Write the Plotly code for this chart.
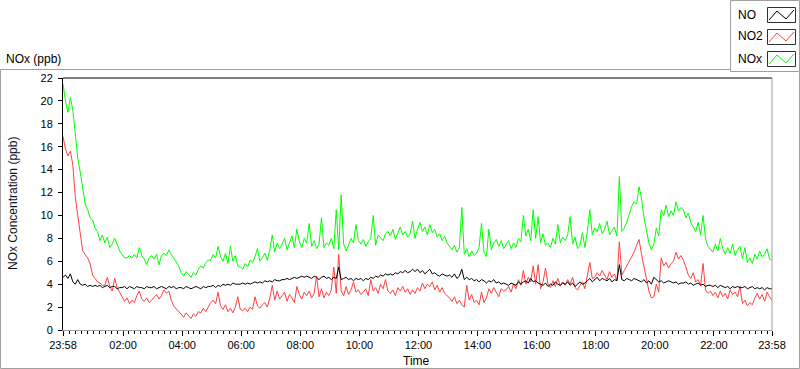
import plotly.graph_objects as go
import pandas as pd

# ---------------- data (5-minute samples, 23:58 -> 23:58 next day) ----------------
start_time = "2024-01-01 23:58"
n_points = 289

no = [
    4.6, 4.8, 4.5, 4.9, 4.2, 4.0, 4.4, 4.0, 3.9, 4.0, 3.8, 3.9,
    3.8, 3.9, 3.8, 3.9, 3.7, 3.8, 3.9, 3.7, 3.8, 3.8, 3.6, 3.7,
    3.7, 3.8, 3.6, 3.8, 3.7, 3.6, 3.8, 3.7, 3.7, 3.6, 3.8, 3.7,
    3.7, 3.8, 3.6, 3.7, 3.8, 3.7, 3.6, 3.8, 3.7, 3.8, 3.6, 3.7,
    3.7, 3.6, 3.8, 3.7, 3.6, 3.7, 3.8, 3.7, 3.6, 3.8, 3.7, 3.8,
    3.8, 3.9, 3.7, 3.9, 3.8, 4.0, 3.9, 4.0, 3.9, 4.1, 4.0, 4.0,
    4.0, 4.1, 4.0, 4.1, 4.0, 4.1, 4.2, 4.1, 4.2, 4.1, 4.3, 4.2,
    4.3, 4.2, 4.4, 4.3, 4.3, 4.4, 4.4, 4.5, 4.4, 4.5, 4.6, 4.5,
    4.6, 4.7, 4.6, 4.7, 4.6, 4.5, 4.7, 4.6, 4.4, 4.6, 4.7, 4.5,
    4.6, 4.4, 4.6, 4.5, 5.5, 4.4, 4.5, 4.6, 4.4, 4.5, 4.3, 4.5,
    4.4, 4.5, 4.3, 4.5, 4.4, 4.6, 4.5, 4.7, 4.6, 4.8, 4.7, 4.9,
    4.8, 4.9, 4.8, 5.0, 4.9, 5.1, 5.0, 5.2, 5.0, 5.1, 5.3, 5.1,
    5.3, 5.0, 5.2, 4.9, 5.1, 5.3, 4.9, 5.0, 4.8, 4.7, 4.9, 4.8,
    4.7, 4.8, 4.6, 4.9, 4.5, 4.7, 5.3, 4.4, 4.6, 4.4, 4.5, 4.3,
    4.4, 4.2, 4.4, 4.3, 4.1, 4.3, 4.2, 4.4, 4.1, 4.2, 4.0, 4.1,
    4.0, 3.9, 4.1, 4.0, 3.9, 4.2, 4.0, 4.2, 4.3, 4.1, 4.5, 4.2,
    4.3, 4.1, 4.0, 3.9, 4.1, 3.8, 4.0, 3.9, 4.2, 4.0, 3.9, 4.1,
    4.0, 4.2, 3.9, 4.1, 3.8, 4.0, 4.2, 4.0, 4.1, 4.3, 4.5, 4.2,
    4.4, 4.6, 4.3, 4.5, 4.4, 4.3, 4.5, 4.2, 4.4, 4.3, 5.7, 4.4,
    4.3, 4.5, 4.4, 4.3, 4.5, 4.4, 4.3, 4.2, 4.4, 4.1, 4.3, 4.0,
    4.6, 4.4, 4.2, 4.3, 4.1, 4.2, 4.3, 4.2, 4.1, 4.2, 4.0, 4.1,
    4.1, 4.2, 4.0, 4.1, 3.9, 4.0, 4.1, 3.9, 4.0, 3.8, 3.9, 3.9,
    3.8, 3.9, 3.7, 3.9, 3.8, 3.7, 3.8, 3.6, 3.8, 3.7, 3.8, 3.7,
    3.7, 3.8, 3.6, 3.7, 3.8, 3.6, 3.7, 3.6, 3.7, 3.5, 3.7, 3.6,
    3.6,
]

no2 = [
    16.9, 15.8, 15.2, 15.6, 14.4, 11.6, 10.0, 8.6, 6.9, 6.6, 6.3, 5.8,
    4.8, 4.5, 4.2, 4.1, 3.9, 3.9, 4.6, 3.8, 3.4, 4.5, 3.7, 3.3,
    2.9, 2.5, 2.8, 2.3, 2.6, 2.4, 3.0, 3.4, 2.7, 2.5, 2.8, 2.4,
    2.6, 2.9, 3.1, 2.7, 3.0, 3.5, 3.2, 3.4, 2.6, 2.1, 1.8, 1.6,
    1.4, 1.1, 1.5, 1.2, 1.0, 1.4, 1.2, 1.6, 1.5, 1.9, 1.6, 2.0,
    2.4, 2.6, 2.3, 3.3, 2.1, 1.8, 2.2, 1.6, 1.9, 1.5, 2.0, 2.9,
    1.8, 1.7, 1.9, 1.6, 2.0, 1.8, 2.9, 2.1, 1.9, 2.2, 2.4, 2.0,
    2.8, 3.9, 2.6, 3.4, 2.7, 3.0, 3.3, 2.5, 3.1, 2.8, 2.4, 3.8,
    3.1, 2.7, 3.3, 3.0, 3.4, 2.8, 3.2, 4.7, 2.9, 3.6, 2.8, 3.3,
    3.0, 3.5, 5.5, 3.2, 6.6, 3.4, 3.0, 3.8, 3.1, 3.5, 4.2, 3.3,
    3.5, 3.1, 3.3, 3.6, 3.0, 4.4, 3.4, 3.7, 3.2, 4.0, 3.6, 4.4,
    3.4, 3.2, 3.5, 3.0, 3.7, 3.4, 3.8, 3.3, 3.6, 3.1, 3.5, 3.2,
    3.7, 3.4, 4.1, 3.6, 4.0, 3.8, 4.2, 3.5, 3.9, 3.3, 3.7, 3.2,
    3.0, 2.8, 2.5, 2.9, 2.3, 2.6, 2.2, 2.0, 3.9, 2.6, 3.1, 2.4,
    2.6, 2.2, 3.3, 2.4, 2.8, 3.6, 3.2, 3.7, 3.3, 2.9, 3.6, 3.4,
    3.5, 3.8, 3.3, 4.0, 3.6, 4.4, 3.9, 5.2, 4.0, 4.6, 4.2, 5.6,
    4.0, 5.7, 3.6, 4.2, 5.4, 4.0, 3.7, 4.3, 3.8, 4.5, 3.9, 4.2,
    3.9, 4.4, 4.0, 4.6, 3.7, 3.5, 3.9, 4.2, 3.6, 4.8, 5.9, 4.5,
    4.6, 5.0, 4.7, 5.2, 4.8, 4.4, 5.1, 4.6, 4.9, 4.3, 7.7, 4.8,
    5.2, 5.6, 5.9, 6.3, 6.8, 7.4, 7.9, 6.6, 5.5, 4.6, 3.4, 2.8,
    2.9, 4.0, 3.3, 6.3, 5.6, 5.9, 5.4, 5.8, 6.0, 6.8, 6.2, 6.5,
    6.1, 5.5, 4.8, 4.5, 5.0, 4.2, 4.4, 3.9, 5.8, 3.5, 3.2, 3.4,
    3.0, 3.3, 2.8, 3.4, 2.9, 3.2, 2.7, 3.5, 3.1, 3.3, 2.9, 3.8,
    2.3, 2.6, 2.1, 2.4, 2.2, 2.8, 3.2, 2.7, 3.1, 2.5, 3.3, 2.9,
    2.6,
]

nox = [
    21.5, 20.0, 19.0, 20.3, 19.2, 16.8, 15.0, 13.8, 12.3, 11.0, 10.5, 9.8,
    9.6, 8.9, 8.6, 7.8, 8.3, 7.6, 8.1, 7.2, 7.5, 8.0, 7.5, 6.9,
    6.6, 6.3, 6.3, 6.5, 6.3, 6.6, 6.3, 7.2, 6.5, 6.2, 5.7, 6.3,
    6.5, 6.2, 6.6, 5.7, 6.5, 6.7, 6.5, 7.0, 6.6, 6.3, 5.9, 5.6,
    5.0, 4.7, 5.1, 4.8, 4.6, 5.0, 4.8, 5.3, 5.6, 5.4, 5.9, 6.1,
    6.1, 6.6, 6.3, 7.3, 6.4, 6.0, 6.7, 5.8, 7.3, 6.0, 6.5, 5.6,
    5.5, 5.3, 5.8, 5.5, 6.1, 5.9, 6.4, 7.1, 6.0, 6.3, 6.7, 6.1,
    7.0, 8.3, 6.8, 7.6, 7.1, 7.5, 8.0, 7.0, 7.6, 8.2, 7.2, 8.8,
    7.7, 7.2, 8.0, 7.6, 9.3, 7.3, 7.8, 7.1, 7.5, 9.8, 7.2, 7.6,
    7.4, 8.0, 7.1, 10.5, 7.0, 11.8, 7.5, 6.9, 7.4, 8.0, 7.6, 9.2,
    7.8, 7.5, 7.9, 7.3, 7.7, 8.0, 10.0, 7.4, 8.3, 8.0, 7.8, 8.4,
    8.6, 8.2, 8.8, 7.9, 8.5, 9.0, 8.3, 8.6, 8.1, 8.4, 9.5, 8.0,
    8.8, 9.4, 8.6, 9.0, 8.3, 9.2, 8.5, 8.8, 8.1, 8.4, 7.8, 8.2,
    7.6, 7.3, 7.0, 7.4, 6.8, 7.2, 10.7, 6.6, 7.1, 6.4, 6.9, 6.5,
    6.7, 7.2, 9.3, 6.8, 6.4, 8.8, 7.0, 7.6, 7.9, 7.3, 7.8, 7.1,
    7.5, 7.8, 7.1, 7.6, 7.2, 8.0, 7.7, 10.0, 8.2, 8.8, 7.8, 10.5,
    8.0, 9.9, 7.6, 8.4, 7.4, 7.6, 7.2, 8.0, 7.5, 9.2, 7.6, 8.1,
    7.8, 8.3, 9.9, 7.5, 8.1, 7.1, 7.4, 8.5, 7.2, 8.6, 10.5, 8.3,
    8.9, 8.6, 9.3, 8.4, 8.8, 9.5, 8.3, 8.7, 9.0, 8.2, 13.4, 8.6,
    8.9, 9.4, 10.2, 10.8, 11.2, 11.0, 12.5, 11.5, 9.8, 8.5, 7.6, 7.0,
    7.5, 8.9, 8.2, 10.5, 10.0, 10.9, 9.9, 10.4, 10.0, 11.2, 10.4, 10.7,
    10.5, 9.8, 10.2, 9.4, 9.0, 8.6, 9.4, 8.3, 10.0, 8.0, 7.3, 7.0,
    6.8, 7.5, 6.9, 8.0, 7.1, 6.6, 7.2, 6.7, 7.5, 6.5, 7.0, 7.3,
    6.2, 7.2, 5.9, 6.3, 5.8, 6.6, 6.2, 6.9, 6.4, 6.6, 7.1, 6.2,
    6.1,
]

series_names = ["NO", "NO2", "NOx"]
series_colors = ["#000000", "#ff4040", "#00ff00"]

tick_labels = ["23:58", "02:00", "04:00", "06:00", "08:00", "10:00", "12:00",
               "14:00", "16:00", "18:00", "20:00", "22:00", "23:58"]
y_ticks = [0, 2, 4, 6, 8, 10, 12, 14, 16, 18, 20, 22]

# ---------------- figure ----------------
times = pd.date_range(start_time, periods=n_points, freq="5min")
assert len(no) == len(no2) == len(nox) == n_points

tick_vals = [times[0]] + [pd.Timestamp("2024-01-02 " + t) for t in tick_labels[1:-1]] + [times[-1]]

series_values = [no, no2, nox]
fig = go.Figure()
# draw order: NOx, NO2, NO (NO on top)
for idx in [2, 1, 0]:
    fig.add_trace(go.Scatter(x=times, y=series_values[idx], mode="lines",
                             name=series_names[idx],
                             line=dict(color=series_colors[idx], width=1)))

L, T, W, H = 63, 78, 709, 252


def PX(x):
    return (x - L) / W


def PY(y):
    return 1 - (y - T) / H


FONT = "Liberation Sans, Arial, sans-serif"

fig.update_layout(
    width=800, height=369,
    margin=dict(l=L, r=800 - L - W, t=T, b=369 - T - H, pad=0),
    paper_bgcolor="white", plot_bgcolor="white",
    showlegend=False,
    font=dict(family=FONT, size=11, color="black"),
    xaxis=dict(
        type="date", range=[times[0], times[-1]],
        tickmode="array", tickvals=tick_vals, ticktext=tick_labels,
        ticks="outside", ticklen=5, tickcolor="black", tickwidth=1,
        showline=True, linecolor="#a0a0a0", linewidth=1,
        showgrid=False, zeroline=False,
        tickfont=dict(family=FONT, size=11, color="black"),
        minor=dict(tickmode="linear", ticks="outside", ticklen=3, tickcolor="black",
                   tickwidth=1, dtick=12 * 60 * 1000, tick0="2024-01-02 00:00",
                   showgrid=False),
    ),
    yaxis=dict(
        range=[0, 22], tickmode="array", tickvals=y_ticks,
        ticks="outside", ticklen=4, tickcolor="black",
        showline=True, linecolor="black", linewidth=1,
        showgrid=False, zeroline=False,
        tickfont=dict(family=FONT, size=11, color="black"),
        ticklabelstandoff=3,
    ),
)

shapes = []
# outer panel
shapes.append(dict(type="rect", xref="paper", yref="paper",
                   x0=PX(0.5), x1=PX(799.5), y0=PY(368.5), y1=PY(69.5),
                   line=dict(color="#a0a0a0", width=1), fillcolor="rgba(0,0,0,0)", layer="below"))
# plot frame top (black) and right (gray)
shapes.append(dict(type="line", xref="paper", yref="paper", x0=0, x1=1, y0=1, y1=1,
                   line=dict(color="black", width=1)))
shapes.append(dict(type="line", xref="paper", yref="paper", x0=1, x1=1, y0=0, y1=1,
                   line=dict(color="#a0a0a0", width=1)))
# legend box
shapes.append(dict(type="rect", xref="paper", yref="paper",
                   x0=PX(730.5), x1=PX(799.5), y0=PY(71.5), y1=PY(0.5),
                   line=dict(color="#a0a0a0", width=1), fillcolor="white"))
annotations = []
row_tops = [7, 29, 51]
for i, (name, col) in enumerate(zip(series_names, series_colors)):
    top = row_tops[i]
    shapes.append(dict(type="rect", xref="paper", yref="paper",
                       x0=PX(767.5), x1=PX(795.5), y0=PY(top + 15.5), y1=PY(top + 0.5),
                       line=dict(color="#303030", width=1), fillcolor="white"))
    pts = [(769, top + 13), (777, top + 4), (786, top + 12), (794, top + 3)]
    path = "M " + " L ".join(f"{PX(x):.5f},{PY(y):.5f}" for x, y in pts)
    shapes.append(dict(type="path", xref="paper", yref="paper", path=path,
                       line=dict(color=col, width=1)))
    annotations.append(dict(text=name, xref="paper", yref="paper", x=PX(736), y=PY(top + 7.5),
                            xanchor="left", yanchor="middle", showarrow=False,
                            font=dict(family=FONT, size=12, color="black")))

annotations.append(dict(text="NOx (ppb)", xref="paper", yref="paper", x=PX(4), y=PY(59),
                        xanchor="left", yanchor="middle", showarrow=False,
                        font=dict(family=FONT, size=12, color="black")))
annotations.append(dict(text="NOx Concentration (ppb)", xref="paper", yref="paper",
                        x=PX(13), y=0.5, xanchor="center", yanchor="middle", textangle=-90,
                        showarrow=False, font=dict(family=FONT, size=12, color="#101020")))
annotations.append(dict(text="Time", xref="paper", yref="paper", x=PX(416), y=PY(361),
                        xanchor="center", yanchor="middle", showarrow=False,
                        font=dict(family=FONT, size=12, color="black")))

fig.update_layout(shapes=shapes, annotations=annotations)
fig.write_html("out.html", config={"displayModeBar": False},
               post_script="document.body.style.margin='0';document.body.style.overflow='hidden';")
